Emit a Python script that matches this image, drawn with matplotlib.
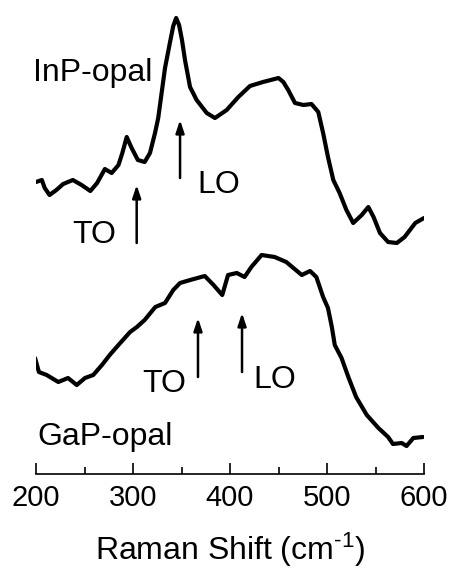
import matplotlib
matplotlib.use("Agg")
import matplotlib.pyplot as plt

plt.rcParams['font.family'] = ['Liberation Sans', 'DejaVu Sans']
plt.rcParams['mathtext.fontset'] = 'custom'
plt.rcParams['mathtext.rm'] = 'Liberation Sans'
plt.rcParams['mathtext.it'] = 'Liberation Sans'

# InP-opal spectrum (Raman shift in cm^-1, intensity in arbitrary units)
inp_shift = [200, 206, 209, 214, 221, 228, 238, 247, 256, 263, 271, 278, 285, 289, 293.5,
             298.6, 305, 312, 317.5, 322.7, 326, 333, 338, 341.5, 344.5, 347.5, 350.5,
             353.6, 358.8, 365.6,
             376, 384.5, 396.6, 408.6, 420.6, 434, 450, 455, 460, 467, 475.6, 484, 491, 496,
             501, 506.5, 513, 520, 527, 535.8, 542.6, 548, 554.6, 563, 572, 580, 591, 600]
inp_int = [396, 398, 390, 383, 388, 394, 398, 393, 387, 395, 409, 405, 413, 425, 441,
           430, 418, 416, 425, 445, 460, 510, 535, 552, 560, 553, 538,
           518, 491, 478,
           465, 460, 468, 481, 492, 496, 500, 496, 488, 475, 473, 474, 466, 445,
           421, 398, 385, 368, 355, 363, 371, 361, 345, 336, 335, 341, 355, 360]

# GaP-opal spectrum
gap_shift = [199, 203, 211, 223, 233, 242, 250.5, 259, 268, 276, 285, 297, 304, 312, 323,
             333, 341.5, 348.5, 359, 374, 383, 392, 398, 407, 415, 422, 432.6, 446, 458,
             474, 482.5, 489, 496, 501, 505, 508, 515, 522, 530, 541, 553, 563, 568, 577,
             582, 589, 599]
gap_int = [220, 206, 203, 196, 200, 193, 200, 203, 213, 223, 233, 246, 251, 258, 271,
           275, 288, 295, 298, 302, 293, 283, 303, 305, 301, 311, 323, 321, 316,
           303, 307, 301, 281, 270, 251, 233, 220, 201, 181, 163, 150, 141, 134, 135,
           132, 140, 141]

# Phonon mode arrows (x position, base intensity, tip intensity)
inp_arrows_x = [303.8, 348.5]
inp_arrows_base = [335, 400]
inp_arrows_tip = [393, 458]
gap_arrows_x = [367, 412.4]
gap_arrows_base = [201, 206]
gap_arrows_tip = [260, 265]

# Text labels
labels = ['InP-opal', 'TO', 'LO', 'TO', 'LO', 'GaP-opal']
labels_x = [197, 237, 366, 310, 424, 201]
labels_y = [497, 335, 385, 186, 190, 133]

fig = plt.figure(figsize=(4.49, 5.78), dpi=100)
ax = fig.add_axes([36/449, 1 - 474/578, 388/449, 474/578])

ax.plot(inp_shift, inp_int, color='black', lw=3.0, solid_joinstyle='round',
        solid_capstyle='round')
ax.plot(gap_shift, gap_int, color='black', lw=3.0, solid_joinstyle='round',
        solid_capstyle='round')

for xs, b, t in [(inp_arrows_x, inp_arrows_base, inp_arrows_tip),
                 (gap_arrows_x, gap_arrows_base, gap_arrows_tip)]:
    for x, yb, yt in zip(xs, b, t):
        ax.annotate('', xy=(x, yt), xytext=(x, yb),
                    arrowprops=dict(arrowstyle='-|>,head_length=0.75,head_width=0.25',
                                    color='black', lw=1.8, shrinkA=0, shrinkB=0))

fs = 23
for s, x, y in zip(labels, labels_x, labels_y):
    ax.text(x, y, s, fontsize=fs, ha='left', va='baseline')

ax.set_xlim(200, 600)
ax.set_ylim(104, 578)
for s in ['left', 'right', 'top']:
    ax.spines[s].set_visible(False)
ax.spines['bottom'].set_linewidth(1.2)
ax.set_yticks([])
ax.set_xticks([200, 300, 400, 500, 600])
ax.set_xticks([250, 350, 450, 550], minor=True)
ax.tick_params(axis='x', direction='in', length=8, width=1.2, labelsize=21, pad=7)
ax.tick_params(axis='x', which='minor', direction='in', length=5, width=1.2)
ax.set_xlabel('Raman Shift (cm$^{\\text{-1}}$)', fontsize=23, labelpad=14)

fig.savefig('out.png', dpi=100)
